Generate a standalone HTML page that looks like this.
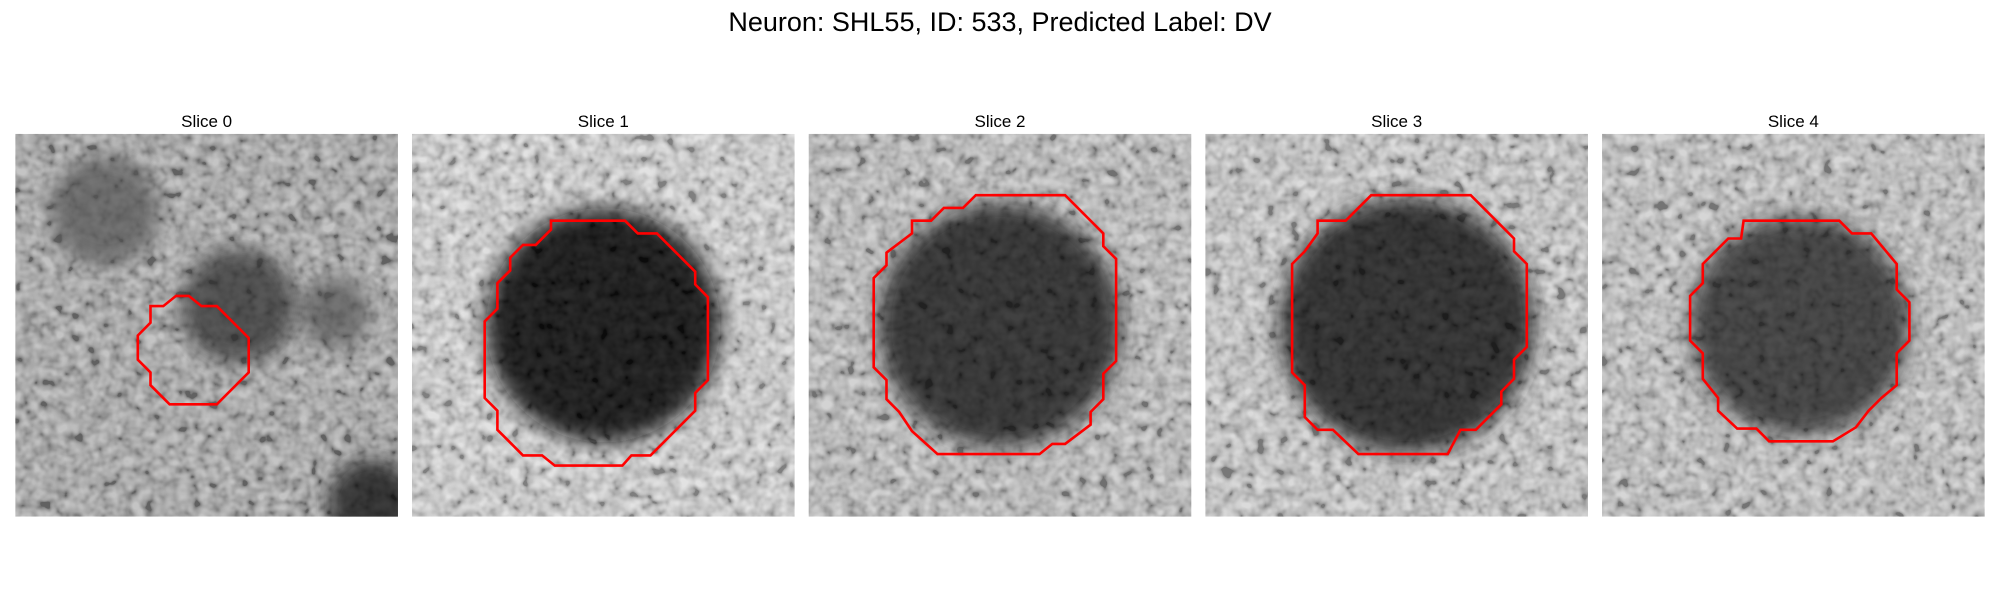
<!DOCTYPE html>
<html><head><meta charset="utf-8"><style>
html,body{margin:0;padding:0;background:#fff;}
svg{display:block;font-family:"Liberation Sans","DejaVu Sans",sans-serif;}
</style></head><body>
<svg id="fig" width="2000" height="600" viewBox="0 0 2000 600" xmlns="http://www.w3.org/2000/svg">
<defs>
<filter id="noise" x="0" y="0" width="100%" height="100%">
<feTurbulence type="fractalNoise" baseFrequency="0.09" numOctaves="2" seed="4"/>
<feColorMatrix type="matrix" values="0.33 0.33 0.33 0 0  0.33 0.33 0.33 0 0  0.33 0.33 0.33 0 0  0 0 0 0 1"/>
<feComponentTransfer><feFuncR type="linear" slope="3" intercept="-1"/><feFuncG type="linear" slope="3" intercept="-1"/><feFuncB type="linear" slope="3" intercept="-1"/></feComponentTransfer>
</filter>
<filter id="blur" x="-100%" y="-100%" width="300%" height="300%"><feGaussianBlur stdDeviation="10"/></filter>
</defs>
<text x="1000" y="31" text-anchor="middle" font-size="27" fill="#000">Neuron: SHL55, ID: 533, Predicted Label: DV</text>
<g id="panels"></g>
</svg>
<script>
// image extent in data units (0..300 each axis)
const sliceTitles = ["Slice 0","Slice 1","Slice 2","Slice 3","Slice 4"];
const blobX = [175,150,150,158,155];
const blobY = [135,150,150,150,150];
const blobR = [45,92,95,100,86];
const blobShade = ["#404040","#080808","#262626","#202020","#353535"];
const bgShade = ["#a0a0a0","#d0d0d0","#b8b8b8","#c4c4c4","#bebebe"];
const contourX = [
 [106,116,126,136,146,158,183,183,158,121,106,106,96,96,106],
 [109,167,177,192,222,222,232,232,222,222,187,172,165,112,102,87,67,67,57,57,67,67,77,77,87,97,109],
 [131,201,231,231,241,241,231,231,221,221,201,191,181,101,81,71,61,61,51,51,61,61,81,81,96,106,121],
 [130,208,242,242,252,252,242,242,232,232,212,200,190,120,100,88,78,78,68,68,78,88,88,110,120],
 [111,186,196,211,231,231,241,241,231,231,219,209,199,181,131,121,106,91,91,79,79,69,69,79,79,99,109]
];
const contourY = [
 [135,135,127,127,135,135,160,187,212,212,197,187,177,158,148],
 [68,68,78,78,108,118,128,193,203,217,252,252,260,260,252,252,232,217,207,147,137,117,107,97,87,87,75],
 [48,48,78,88,98,178,188,208,218,228,243,243,251,251,233,218,208,193,183,113,103,93,78,68,68,58,58],
 [48,48,82,92,102,167,177,192,202,212,232,232,251,251,232,232,222,197,187,102,92,78,68,68,58],
 [68,68,78,78,102,122,132,162,172,197,207,217,230,241,241,231,231,217,207,192,172,162,127,117,102,82,82]
];
const NS="http://www.w3.org/2000/svg";
const S=2000/1568, PX0=12*S, PSTEP=311*S, PW=300*S, PY0=105*S;
function xs(i,v){return PX0+i*PSTEP+v/300*PW;}
function ys(v){return PY0+v/300*PW;}
const g=document.getElementById('panels');
function mk(t,a,p){const e=document.createElementNS(NS,t);for(const k in a)e.setAttribute(k,a[k]);(p||g).appendChild(e);return e;}
sliceTitles.forEach((t,i)=>{
  const pg=mk('g',{});
  
  
  const cp=mk('clipPath',{id:'cp'+i},pg);
  mk('rect',{x:xs(i,0),y:ys(0),width:PW,height:PW},cp);
  const ig=mk('g',{'clip-path':'url(#cp'+i+')'},pg);
  
  
  mk('rect',{x:xs(i,0),y:ys(0),width:PW,height:PW,fill:bgShade[i]},ig);
  mk('rect',{x:xs(i,0),y:ys(0),width:PW,height:PW,filter:'url(#noise)',opacity:0.3},ig);
  if(i===0){mk('circle',{cx:xs(i,280),cy:ys(290),r:45,fill:'#202020',filter:'url(#blur)'},ig);
            mk('circle',{cx:xs(i,70),cy:ys(60),r:55,fill:'#606060',filter:'url(#blur)'},ig);
            mk('circle',{cx:xs(i,250),cy:ys(140),r:35,fill:'#606060',filter:'url(#blur)'},ig);}
  mk('circle',{cx:xs(i,blobX[i]),cy:ys(blobY[i]),r:blobR[i]/300*PW,fill:blobShade[i],filter:'url(#blur)'},ig);
  mk('rect',{x:xs(i,0),y:ys(0),width:PW,height:PW,filter:'url(#noise)',opacity:0.12},ig);
  const tt=mk('text',{x:xs(i,150),y:ys(0)-7,'text-anchor':'middle','font-size':17,fill:'#000'},pg);
  tt.textContent=t;
  
  
  const pts=contourX[i].map((x,k)=>xs(i,x).toFixed(1)+','+ys(contourY[i][k]).toFixed(1)).join(' ');
  const pl=mk('polygon',{points:pts,fill:'none',stroke:'#ff0000','stroke-width':2.6,'stroke-linejoin':'miter'},pg);
  
  
});
</script>
</body></html>
